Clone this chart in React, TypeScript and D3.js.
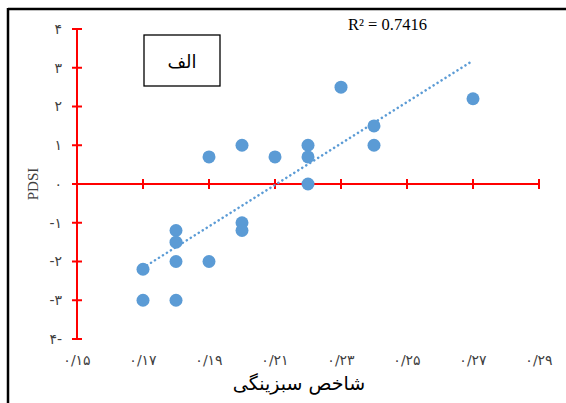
import * as d3 from "d3";

// scatter of greenness index vs PDSI
const greenness = [0.17, 0.17, 0.18, 0.18, 0.18, 0.18, 0.19, 0.19, 0.2, 0.2, 0.2, 0.21, 0.22, 0.22, 0.22, 0.23, 0.24, 0.24, 0.27];
const pdsi = [-2.2, -3, -1.2, -1.5, -2, -3, 0.7, -2, 1, -1, -1.2, 0.7, 1, 0.7, 0, 2.5, 1.5, 1, 2.2];

const xTicks = [0.15, 0.17, 0.19, 0.21, 0.23, 0.25, 0.27, 0.29];
const xTickLabels = ["۰/۱۵", "۰/۱۷", "۰/۱۹", "۰/۲۱", "۰/۲۳", "۰/۲۵", "۰/۲۷", "۰/۲۹"];
const yTicks = [4, 3, 2, 1, 0, -1, -2, -3, -4];
const yTickLabels = ["۴", "۳", "۲", "۱", "۰", "-۱", "-۲", "-۳", "۴-"];

const r2Label = "R² = 0.7416";
const panelLabel = "الف";
const xTitle = "شاخص سبزینگی";
const yTitle = "PDSI";

const W = 566;
const H = 403;
const arabicFont = "'DejaVu Sans', sans-serif";
const serifFont = "'Liberation Serif', 'DejaVu Serif', serif";

export default function App() {
  const x = d3.scaleLinear().domain([0.15, 0.29]).range([77, 539]);
  const y = d3.scaleLinear().domain([-4, 4]).range([339, 29]);

  const pts = greenness.map((g, i) => ({ g, p: pdsi[i] }));

  // least squares trend line
  const mx = d3.mean(greenness) as number;
  const my = d3.mean(pdsi) as number;
  const sxy = d3.sum(pts, (d) => (d.g - mx) * (d.p - my));
  const sxx = d3.sum(pts, (d) => (d.g - mx) ** 2);
  const slope = sxy / sxx;
  const icpt = my - slope * mx;
  const [gMin, gMax] = d3.extent(greenness) as [number, number];
  const trend = d3.line<number>()
    .x((g) => x(g))
    .y((g) => y(icpt + slope * g))([gMin, gMax]);

  const red = "#ff0000";
  const blue = "#5b9bd5";

  return (
    <div style={{ position: "absolute", left: 0, top: 0 }}>
      <svg width={W} height={H} style={{ display: "block", background: "#fff" }}>
        {/* outer frame */}
        <line x1={8} x2={W} y1={9} y2={9} stroke="#000" strokeWidth={2.5} />
        <line x1={8} x2={8} y1={8} y2={H} stroke="#000" strokeWidth={2.5} />

        {/* y axis */}
        <line x1={x(0.15)} x2={x(0.15)} y1={y(4)} y2={y(-4)} stroke={red} strokeWidth={2} />
        {yTicks.map((t, i) => (
          <g key={"y" + t}>
            <line x1={x(0.15) - 5} x2={x(0.15) + 5} y1={y(t)} y2={y(t)} stroke={red} strokeWidth={2} />
            <text
              x={62}
              y={y(t)}
              dy="0.35em"
              textAnchor="end"
              direction="ltr"
              fontFamily={arabicFont}
              fontSize={14}
              fill="#404040"
            >
              {yTickLabels[i]}
            </text>
          </g>
        ))}

        {/* x axis at y = 0 */}
        <line x1={x(0.15)} x2={x(0.29)} y1={y(0)} y2={y(0)} stroke={red} strokeWidth={2} />
        {xTicks.map((t, i) => (
          <g key={"x" + t}>
            {i > 0 && (
              <line x1={x(t)} x2={x(t)} y1={y(0) - 5} y2={y(0) + 5} stroke={red} strokeWidth={2} />
            )}
            <text
              x={x(t)}
              y={360}
              dy="0.35em"
              textAnchor="middle"
              direction="ltr"
              fontFamily={arabicFont}
              fontSize={14}
              fill="#404040"
            >
              {xTickLabels[i]}
            </text>
          </g>
        ))}

        {/* trend line */}
        <path
          d={trend || ""}
          fill="none"
          stroke={blue}
          strokeWidth={2.5}
          strokeDasharray="0.1 4.6"
          strokeLinecap="round"
        />

        {/* points */}
        {pts.map((d, i) => (
          <circle key={i} cx={x(d.g)} cy={y(d.p)} r={6.5} fill={blue} />
        ))}

        {/* R² */}
        <text x={348} y={30} fontFamily={serifFont} fontSize={16.5} fill="#000">
          {r2Label}
        </text>

        {/* panel label */}
        <rect x={144} y={35} width={76} height={51} fill="#fff" stroke="#000" strokeWidth={1.3} />
        <text
          x={182}
          y={62}
          dy="0.35em"
          textAnchor="middle"
          fontFamily={arabicFont}
          fontSize={18}
          fill="#000"
        >
          {panelLabel}
        </text>

        {/* axis titles */}
        <text
          transform={`translate(33,${y(0)}) rotate(-90)`}
          dy="0.35em"
          textAnchor="middle"
          fontFamily={serifFont}
          fontSize={15}
          fill="#404040"
        >
          {yTitle}
        </text>
        <text
          x={299}
          y={383}
          dy="0.35em"
          textAnchor="middle"
          fontFamily={arabicFont}
          fontSize={19}
          fill="#000"
        >
          {xTitle}
        </text>
      </svg>
    </div>
  );
}
